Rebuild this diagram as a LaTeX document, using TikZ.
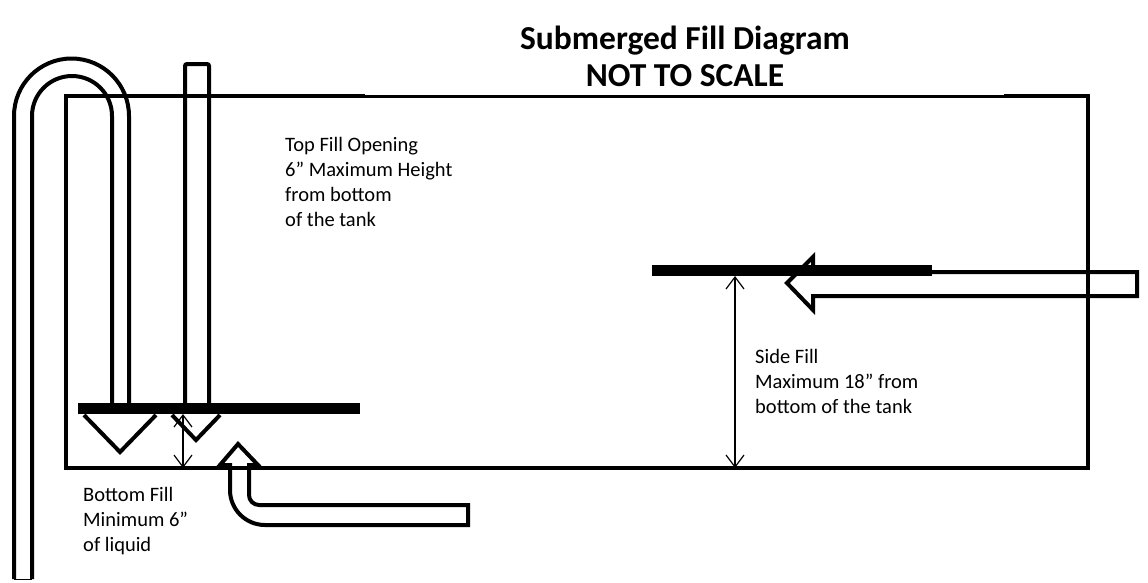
\documentclass[tikz,border=0pt]{standalone}
\usepackage{fontspec}
\setmainfont{Carlito}
\usetikzlibrary{arrows.meta}

\begin{document}
\begin{tikzpicture}[x=1pt, y=-1pt,
  wall/.style={line width=4pt, line join=miter},
  dimline/.style={line width=1.2pt, {Straight Barb[length=12pt,width=18pt]}-{Straight Barb[length=12pt,width=18pt]}},
  note/.style={anchor=north west, inner sep=0pt, align=left, font=\fontsize{20.5}{25}\selectfont}]
\useasboundingbox (0,0) rectangle (1148,582);

% Title
\node[font=\bfseries\fontsize{33.5}{37}\selectfont, align=center] (title) at (685,56) {Submerged Fill Diagram\\NOT TO SCALE};

% Tank
\draw[wall] (365,96) -| (66,468) -| (1088,96) -- (1004,96);
\draw[line width=3pt] (365,96) -- (1004,96);

% U pipe
\draw[wall] (14,579) -- (14,116) arc[start angle=180, end angle=360, radius=57.5] -- (129,403);
\draw[wall] (32,579) -- (32,116) arc[start angle=180, end angle=360, radius=40] -- (112,403);
\draw[line width=1pt] (14,579) -- (32,579);

% Top fill pipe
\draw[wall, rounded corners=2] (185,403) -- (185,64) -- (209,64) -- (209,403);
\fill (78,403) rectangle (360,414);
\draw[wall] (84,415) -- (120,452) -- (156,415);
\draw[wall] (172,415) -- (196,440) -- (220,415);

% Bottom fill pipe
\draw[wall] (249,465) -- (249,495) arc[start angle=180, end angle=90, radius=10] -- (468,505) -- (468,525)
  -- (265,525) arc[start angle=90, end angle=180, radius=35] -- (230,465) -- (220,465) -- (238,444) -- (258,465) -- cycle;

% Side fill pipe
\draw[wall] (1137,272) -- (813,272) -- (813,257) -- (787,283) -- (813,310) -- (813,296) -- (1137,296) -- cycle;
\fill (652,265) rectangle (932,276);

% Heights
\coordinate (bfTop) at (183,414);
\coordinate (bfBot) at (183,468);
\coordinate (sfTop) at (735,276);
\coordinate (sfBot) at (735,468);
\draw[dimline] (bfTop) -- (bfBot);
\draw[dimline] (sfTop) -- (sfBot);

% Notes
\node[note] (topnote) at (285,137) {Top Fill Opening\\6” Maximum Height\\from bottom\\of the tank};
\node[note] (sidenote) at (755,349) {Side Fill\\Maximum 18” from\\bottom of the tank};
\node[note] (bottomnote) at (83,487) {Bottom Fill\\Minimum 6”\\of liquid};
\end{tikzpicture}
\end{document}
